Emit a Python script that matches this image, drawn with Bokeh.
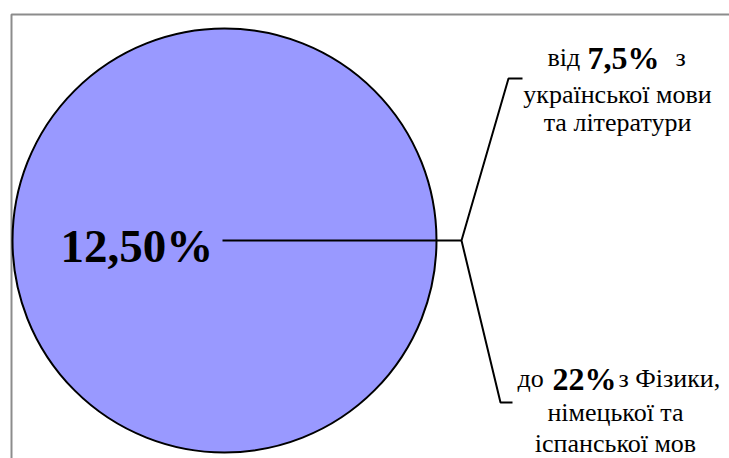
from bokeh.plotting import figure
from bokeh.models import Range1d, ColumnDataSource
from bokeh.core.properties import value
from bokeh.embed import file_html
from bokeh.resources import INLINE

# ---------------- data ----------------
whole_share = [100.0]                 # single full circle
average_share = 12.5                  # value shown inside the circle
range_low = 7.5                       # lower bound of range
range_high = 22                       # upper bound of range
low_prefix = "від"
low_suffix = "з"
low_lines = ["української мови", "та літератури"]
high_prefix = "до"
high_suffix = "з Фізики,"
high_lines = ["німецької та", "іспанської мов"]


def pct(v, digits=None):
    s = f"{v:.{digits}f}" if digits is not None else f"{v:g}"
    return s.replace(".", ",") + "%"


# ---------------- layout (pixel coordinates of the page) ----------------
OX, OY = 0, 0
W, H = 729, 458
FONT = "Liberation Serif"

p = figure(width=W, height=H, output_backend="svg", toolbar_location=None,
           x_range=Range1d(OX, OX + W), y_range=Range1d(OY + H, OY),
           min_border=0, outline_line_color=None)
p.axis.visible = False
p.grid.visible = False
p.background_fill_color = "white"
p.border_fill_color = "white"

# gray frame (top and left edges visible; the rest runs off the page)
frame_l, frame_t = 11, 14
p.line(x=[frame_l, frame_l, OX + W + 5], y=[OY + H + 5, frame_t, frame_t],
       line_color="#8c8c8c", line_width=2)

# the circle (one full slice)
cx, cy, r = 224, 240, 212
total = sum(whole_share)
src = ColumnDataSource(dict(x=[cx], y=[cy], frac=[whole_share[0] / total]))
p.circle(x="x", y="y", radius=r * src.data["frac"][0], source=src,
         fill_color="#9999FF", line_color="black", line_width=2)

# main label
p.text(x=[60], y=[245], text=[pct(average_share, 2)], text_font=value(FONT),
       text_font_size="47px", text_font_style="bold", text_color="black",
       text_align="left", text_baseline="alphabetic")

# leader line and bracket
jx, jy = 461, 240
p.line(x=[222, jx], y=[cy, jy], line_color="black", line_width=2)
p.line(x=[522, 508, jx, 500, 512], y=[78, 78, jy, 402, 402],
       line_color="black", line_width=2)

reg = dict(text_font=value(FONT), text_font_size="26px", text_color="black",
           text_baseline="alphabetic")
bold = dict(text_font=value(FONT), text_font_size="32px", text_font_style="bold",
            text_color="black", text_baseline="alphabetic")

# upper annotation
p.text(x=[547], y=[57], text=[low_prefix], text_align="left", **reg)
p.text(x=[587], y=[57], text=[pct(range_low)], text_align="left", **bold)
p.text(x=[675], y=[57], text=[low_suffix], text_align="left", **reg)
p.text(x=[617, 617], y=[94, 122], text=low_lines, text_align="center", **reg)

# lower annotation
p.text(x=[517], y=[378], text=[high_prefix], text_align="left", **reg)
p.text(x=[552], y=[378], text=[pct(range_high)], text_align="left", **bold)
p.text(x=[618], y=[378], text=[high_suffix], text_align="left", **reg)
p.text(x=[615, 615], y=[412, 443], text=high_lines, text_align="center", **reg)

open("out.html", "w").write(file_html(p, INLINE))
